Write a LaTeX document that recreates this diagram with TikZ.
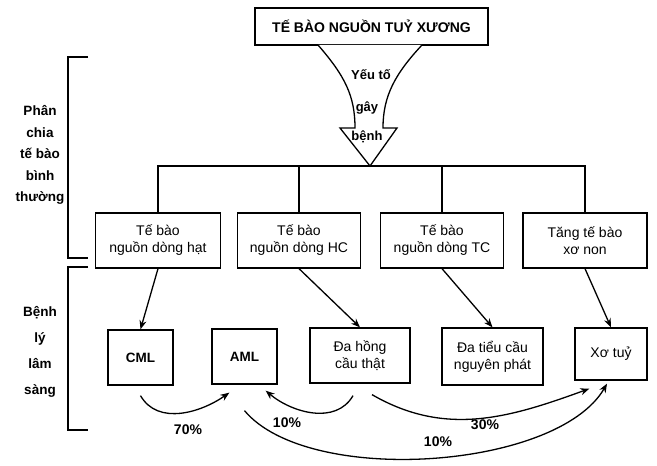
\documentclass[tikz,border=0pt]{standalone}
\usepackage{fontspec}
\setmainfont{Liberation Sans}
\usetikzlibrary{arrows.meta}

\begin{document}
\begin{tikzpicture}[x=1pt, y=1pt,
  box/.style={draw, line width=1.3pt, inner sep=0pt, align=center, font=\fontsize{14}{17}\selectfont},
  side/.style={align=center, font=\bfseries\fontsize{13.5}{21.5}\selectfont},
  cause/.style={font=\bfseries\fontsize{13}{14}\selectfont},
  pct/.style={font=\bfseries\fontsize{14}{15}\selectfont},
  link/.style={line width=1.3pt, -{Stealth[length=9pt, width=7pt]}},
  rule/.style={line width=1.3pt}
]
  \useasboundingbox (0,0) rectangle (657,466);

  % nguon goc
  \node[box, font=\bfseries\fontsize{14}{16}\selectfont, minimum width=233pt, minimum height=37pt] (root) at (371.5,439.5) {TẾ BÀO NGUỒN TUỶ XƯƠNG};

  % mui ten lon
  \draw[rule, fill=white] (318,421) .. controls (345,390) and (355,370) .. (355,338) -- (340,338)
    -- (370,300) coordinate (tip) -- (397,338) -- (383,338) .. controls (383,370) and (395,392) .. (422,421);
  \node[cause] (c1) at (371,391) {Yếu tố};
  \node[cause] (c2) at (367,358) {gây};
  \node[cause] (c3) at (367,329) {bệnh};

  % hang 1
  \node[box, minimum width=125pt, minimum height=55pt] (h1) at (158,225.5) {Tế bào\\nguồn dòng hạt};
  \node[box, minimum width=123pt, minimum height=55pt] (h2) at (299,225.5) {Tế bào\\nguồn dòng HC};
  \node[box, minimum width=123pt, minimum height=55pt] (h3) at (442,225.5) {Tế bào\\nguồn dòng TC};
  \node[box, minimum width=124pt, minimum height=55pt] (h4) at (585,225.5) {Tăng tế bào\\xơ non};

  \draw[rule] (h1.north) |- (h4.north |- tip) -- (h4.north);
  \draw[rule] (h2.north) -- (h2.north |- tip);
  \draw[rule] (h3.north) -- (h3.north |- tip);

  % hang 2
  \node[box, font=\bfseries\fontsize{13.5}{16}\selectfont, minimum width=65pt, minimum height=55pt] (cml) at (140.5,108.5) {CML};
  \node[box, font=\bfseries\fontsize{13.5}{16}\selectfont, minimum width=65pt, minimum height=55pt] (aml) at (244.5,109.5) {AML};
  \node[box, minimum width=100pt, minimum height=55pt] (dhc) at (360,110.5) {Đa hồng\\cầu thật};
  \node[box, minimum width=101pt, minimum height=57pt] (dtc) at (492.5,109.5) {Đa tiểu cầu\\nguyên phát};
  \node[box, minimum width=72pt, minimum height=52pt] (xt) at (611,112) {Xơ tuỷ};

  \draw[link] (h1.south) -- (cml.north);
  \draw[link] (h2.south) -- (dhc.north);
  \draw[link] (h3.south) -- (dtc.north);
  \draw[link] (h4.south) -- (xt.north);

  % chuyen dang
  \draw[link] ([yshift=-10pt]cml.south) to[out=-60, in=-145] ([xshift=18pt, yshift=-8pt]aml.south west);
  \draw[link] ([xshift=-7pt, yshift=-12pt]dhc.south) to[out=-120, in=-40] ([xshift=-12pt, yshift=-6pt]aml.south east);
  \draw[link] ([xshift=12pt, yshift=-11pt]dhc.south) to[out=-30, in=-160] ([xshift=15pt, yshift=-8pt]xt.south west);
  \draw[link] ([yshift=-26pt]aml.south) to[out=-50, in=-120, looseness=0.7] ([xshift=-4pt, yshift=-3pt]xt.south);
  \node[pct] (p70) at (188,36) {70\%};
  \node[pct] (p10a) at (287,43) {10\%};
  \node[pct] (p30) at (485,41) {30\%};
  \node[pct] (p10b) at (438,24) {10\%};

  % ngoac trai
  \draw[rule] (88,409) -- (68,409) -- (68,208) -- (88,208);
  \draw[rule] (88,199) -- (68,199) -- (68,36) -- (88,36);
  \node[side] (normal) at (40,311) {Phân\\chia\\tế bào\\bình\\thường};
  \node[side, font=\bfseries\fontsize{13.5}{26}\selectfont] (clinic) at (40,114) {Bệnh\\lý\\lâm\\sàng};
\end{tikzpicture}
\end{document}
